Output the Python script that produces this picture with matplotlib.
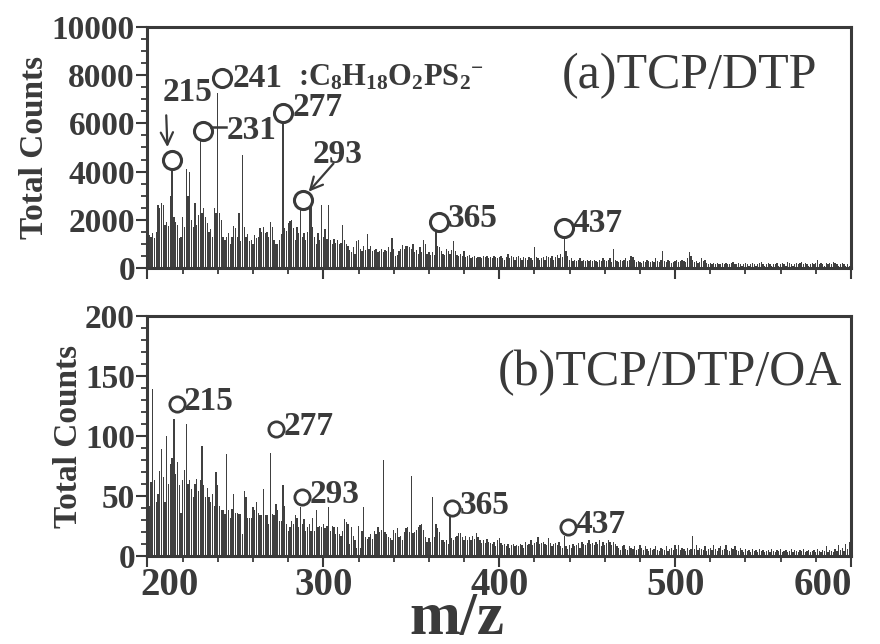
import matplotlib
matplotlib.use('Agg')
import matplotlib.pyplot as plt
from matplotlib.ticker import MultipleLocator
from matplotlib.transforms import ScaledTranslation
import numpy as np

plt.rcParams['font.family'] = ['Liberation Serif', 'DejaVu Serif']
plt.rcParams['mathtext.fontset'] = 'custom'
plt.rcParams['mathtext.rm'] = 'Liberation Serif:bold'
plt.rcParams['mathtext.bf'] = 'Liberation Serif:bold'
plt.rcParams['mathtext.it'] = 'Liberation Serif:bold'

# ---------------- data ----------------
mz_start = 200
mz_stop = 600

# (a) TCP/DTP, m/z 200..600
counts_a = [
    1400, 1350, 1300, 1450, 1250, 1500, 2600, 2500, 2700, 2600,
    1800, 1900, 1750, 3000, 4200, 2100, 1900, 1800, 1250, 1300,
    2100, 1700, 4100, 3000, 4000, 2000, 1700, 2700, 1800, 2200,
    5450, 2300, 2500, 2100, 1850, 1500, 1600, 1300, 2500, 2300,
    7250, 2300, 2000, 1300, 1150, 1300, 1450, 1000, 1300, 1750,
    1650, 1300, 2300, 1100, 4700, 1700, 1300, 1400, 1100, 1150,
    1000, 1350, 1250, 1300, 1650, 1500, 1700, 1450, 1500, 1300,
    1900, 1700, 1150, 1000, 1000, 1150, 1400, 6400, 1650, 1550,
    1850, 1950, 2000, 1650, 1150, 1700, 1450, 2500, 1300, 1450,
    1150, 1500, 3100, 2900, 1700, 1300, 1000, 1450, 1150, 2600,
    1300, 1600, 1200, 2600, 1150, 1000, 1200, 1050, 1150, 1000,
    1050, 1800, 1150, 1000, 900, 750, 650, 850, 600, 1100,
    1150, 800, 700, 900, 750, 1400, 800, 900, 700, 750,
    800, 650, 700, 800, 650, 750, 700, 850, 650, 1250,
    800, 500, 550, 700, 800, 950, 800, 900, 900, 850,
    800, 1000, 650, 750, 600, 850, 650, 1150, 1000, 600,
    650, 550, 650, 550, 1500, 900, 850, 700, 600, 550,
    800, 700, 600, 750, 1100, 700, 550, 500, 600, 500,
    700, 450, 500, 550, 400, 450, 500, 400, 450, 450,
    400, 500, 450, 500, 400, 450, 400, 500, 450, 400,
    450, 500, 400, 350, 450, 600, 400, 500, 450, 350,
    450, 500, 400, 350, 450, 400, 350, 450, 400, 350,
    850, 450, 400, 350, 400, 450, 350, 500, 450, 400,
    500, 350, 450, 550, 400, 600, 450, 1350, 700, 500,
    350, 400, 300, 350, 300, 350, 400, 300, 350, 300,
    350, 300, 350, 300, 350, 300, 250, 350, 300, 400,
    350, 300, 350, 400, 250, 800, 350, 300, 250, 350,
    300, 350, 400, 300, 350, 500, 450, 350, 250, 300,
    250, 200, 300, 250, 350, 300, 250, 300, 250, 400,
    300, 250, 350, 700, 300, 250, 350, 300, 200, 250,
    300, 350, 250, 300, 350, 300, 250, 400, 650, 500,
    350, 250, 300, 200, 250, 400, 300, 350, 200, 150,
    200, 150, 200, 150, 200, 150, 150, 200, 150, 200,
    150, 150, 200, 250, 150, 150, 200, 150, 100, 150,
    200, 150, 100, 150, 200, 150, 100, 150, 200, 250,
    150, 100, 150, 200, 150, 100, 150, 150, 200, 100,
    150, 200, 150, 100, 250, 200, 150, 100, 150, 200,
    150, 200, 250, 150, 200, 150, 100, 150, 200, 150,
    200, 350, 150, 200, 150, 100, 200, 150, 200, 150,
    250, 200, 150, 100, 150, 200, 150, 100, 150, 100,
    150,
]

# (b) TCP/DTP/OA, m/z 200..600
counts_b = [
    52, 42, 62, 139, 63, 45, 52, 71, 89, 66,
    45, 100, 60, 77, 82, 114, 68, 78, 59, 36,
    63, 72, 110, 60, 63, 56, 49, 60, 64, 54,
    63, 92, 59, 49, 57, 49, 45, 52, 42, 70,
    59, 42, 38, 38, 35, 85, 38, 32, 39, 52,
    36, 36, 35, 35, 18, 54, 49, 32, 32, 32,
    41, 38, 45, 36, 34, 34, 56, 34, 34, 27,
    86, 35, 34, 43, 38, 29, 29, 59, 42, 27,
    21, 24, 29, 27, 34, 32, 24, 41, 27, 31,
    21, 24, 27, 21, 32, 21, 38, 24, 25, 24,
    27, 23, 25, 41, 21, 25, 24, 18, 24, 18,
    17, 21, 31, 28, 27, 10, 24, 17, 13, 7,
    25, 7, 21, 41, 16, 14, 16, 18, 14, 21,
    18, 24, 20, 22, 80, 20, 18, 16, 15, 13,
    22, 19, 23, 16, 17, 13, 20, 23, 24, 20,
    67, 19, 20, 22, 24, 26, 27, 22, 16, 12,
    15, 12, 49, 16, 27, 23, 20, 13, 13, 12,
    13, 10, 33, 15, 13, 16, 17, 19, 19, 16,
    13, 17, 13, 16, 13, 17, 14, 19, 16, 13,
    11, 13, 11, 14, 12, 11, 10, 12, 8, 13,
    15, 11, 9, 10, 8, 10, 7, 9, 10, 8,
    9, 8, 10, 9, 7, 12, 9, 10, 13, 9,
    11, 12, 16, 10, 11, 12, 10, 9, 15, 11,
    8, 10, 11, 9, 12, 8, 7, 17, 8, 6,
    9, 7, 10, 8, 9, 11, 7, 12, 10, 9,
    11, 13, 10, 11, 9, 12, 10, 13, 8, 12,
    9, 11, 13, 12, 9, 12, 10, 8, 7, 5,
    8, 9, 6, 5, 8, 7, 6, 8, 5, 6,
    9, 7, 5, 8, 6, 4, 7, 5, 6, 8,
    5, 4, 7, 6, 5, 8, 4, 6, 7, 5,
    9, 6, 9, 5, 7, 6, 4, 7, 5, 6,
    17, 6, 9, 5, 7, 6, 5, 8, 4, 6,
    7, 5, 9, 6, 4, 7, 8, 5, 6, 9,
    5, 4, 7, 6, 8, 5, 4, 7, 5, 3,
    6, 4, 5, 3, 6, 4, 5, 3, 6, 4,
    5, 3, 4, 5, 3, 6, 4, 3, 5, 4,
    6, 3, 4, 5, 3, 4, 6, 3, 5, 4,
    3, 5, 4, 6, 3, 4, 5, 3, 4, 5,
    3, 6, 4, 3, 5, 4, 8, 3, 5, 4,
    3, 6, 4, 9, 5, 7, 4, 10, 6, 12,
    8,
]

x_ticks = [200, 300, 400, 500, 600]
y_ticks_a = [0, 2000, 4000, 6000, 8000, 10000]
y_ticks_b = [0, 50, 100, 150, 200]

title_a = '(a)TCP/DTP'
title_b = '(b)TCP/DTP/OA'
formula = r':C$_{8}$H$_{18}$O$_{2}$PS$_{2}$$^{-}$'

# annotations: (label, circle m/z, circle value)
marks_a = [('215', 214.0, 4480), ('241', 242.4, 7880), ('231', 231.6, 5680),
           ('277', 277.0, 6440), ('293', 288.2, 2820), ('365', 365.7, 1920),
           ('437', 437.0, 1650)]
marks_b = [('215', 216.6, 127), ('277', 273.0, 106), ('293', 287.9, 49),
           ('365', 373.3, 40), ('437', 438.9, 24)]

# ---------------- drawing ----------------
C = '#3a3a3a'
BAR = '#404040'

fig = plt.figure(figsize=(8.8, 6.44), dpi=100)
axa = fig.add_axes([0.1676, 0.5839, 0.7994, 0.3742])
axb = fig.add_axes([0.1676, 0.1366, 0.7994, 0.3727])

mz = np.arange(mz_start, mz_stop + 1)

for ax, vals, yt, ymax, minor in [(axa, counts_a, y_ticks_a, 10000, 500),
                                  (axb, counts_b, y_ticks_b, 200, 10)]:
    ax.bar(mz, vals, width=0.72, color=BAR, linewidth=0, zorder=2)
    ax.set_xlim(mz_start, mz_stop)
    ax.set_ylim(0, ymax)
    ax.set_yticks(yt)
    ax.set_xticks(x_ticks)
    ax.xaxis.set_minor_locator(MultipleLocator(20))
    ax.yaxis.set_minor_locator(MultipleLocator(minor))
    for s in ax.spines.values():
        s.set_linewidth(2.2)
        s.set_color(C)
    ax.tick_params(which='major', direction='out', length=8, width=1.5,
                   color=C, labelcolor=C)
    ax.tick_params(axis='y', which='major', labelsize=24, pad=1)
    ax.tick_params(axis='x', which='major', labelsize=28, pad=0)
    ax.tick_params(which='minor', direction='out', length=4.5, width=1.3, color=C)
    ax.tick_params(top=False, right=False, which='both')
    for lab in ax.get_yticklabels() + ax.get_xticklabels():
        lab.set_fontweight('bold')
    ax.set_ylabel('Total Counts', fontsize=24, fontweight='bold', color=C,
                  labelpad=1)

axa.tick_params(labelbottom=False)

# first and last x tick labels pulled inward, as in the reference
xlabs = axb.get_xticklabels()
xlabs[0].set_transform(xlabs[0].get_transform() +
                       ScaledTranslation(0.22, 0, fig.dpi_scale_trans))
xlabs[-1].set_transform(xlabs[-1].get_transform() +
                        ScaledTranslation(-0.28, 0, fig.dpi_scale_trans))

fig.text(457 / 880, 10 / 644, 'm/z', fontsize=44, fontweight='bold', color=C,
         ha='center', va='baseline')

# panel titles
axa.text(435.3, 7970, title_a, fontsize=36, color=C, va='center', ha='left')
axb.text(399.4, 153, title_b, fontsize=36, color=C, va='center', ha='left')

circ_a = dict(marker='o', ms=13, mfc='white', mec=C, mew=2.2, ls='none', zorder=5)
circ_b = dict(marker='o', ms=11, mfc='white', mec=C, mew=2.0, ls='none', zorder=5)
tkw = dict(fontsize=24, fontweight='bold', color=C, va='center', ha='left', zorder=6)

for lab, x, y in marks_a:
    axa.plot([x], [y], **circ_a)

# panel a labels
axa.text(208.5, 7300, '215', **tkw)
axa.annotate('', xy=(211.4, 4900), xytext=(210.6, 6450),
             arrowprops=dict(arrowstyle='->', lw=1.6, color=C, mutation_scale=22))
axa.text(248.5, 7880, '241', **tkw)
fkw = dict(tkw)
fkw['fontsize'] = 22
axa.text(285.4, 7880, formula, **fkw)
axa.plot([236.0, 244.5], [5830, 5830], color=C, lw=1.8, zorder=5)
axa.text(244.8, 5700, '231', **tkw)
axa.text(282.4, 6650, '277', **tkw)
axa.text(293.7, 4690, '293', **tkw)
axa.annotate('', xy=(290.6, 3080), xytext=(306.8, 4420),
             arrowprops=dict(arrowstyle='->', lw=1.6, color=C, mutation_scale=22))
axa.text(370.5, 2070, '365', **tkw)
axa.text(441.5, 1850, '437', **tkw)

# panel b labels
for lab, x, y in marks_b:
    axb.plot([x], [y], **circ_b)
    axb.text(x + 4.2, y + 2, lab, **tkw)

fig.savefig('out.png', dpi=100)
